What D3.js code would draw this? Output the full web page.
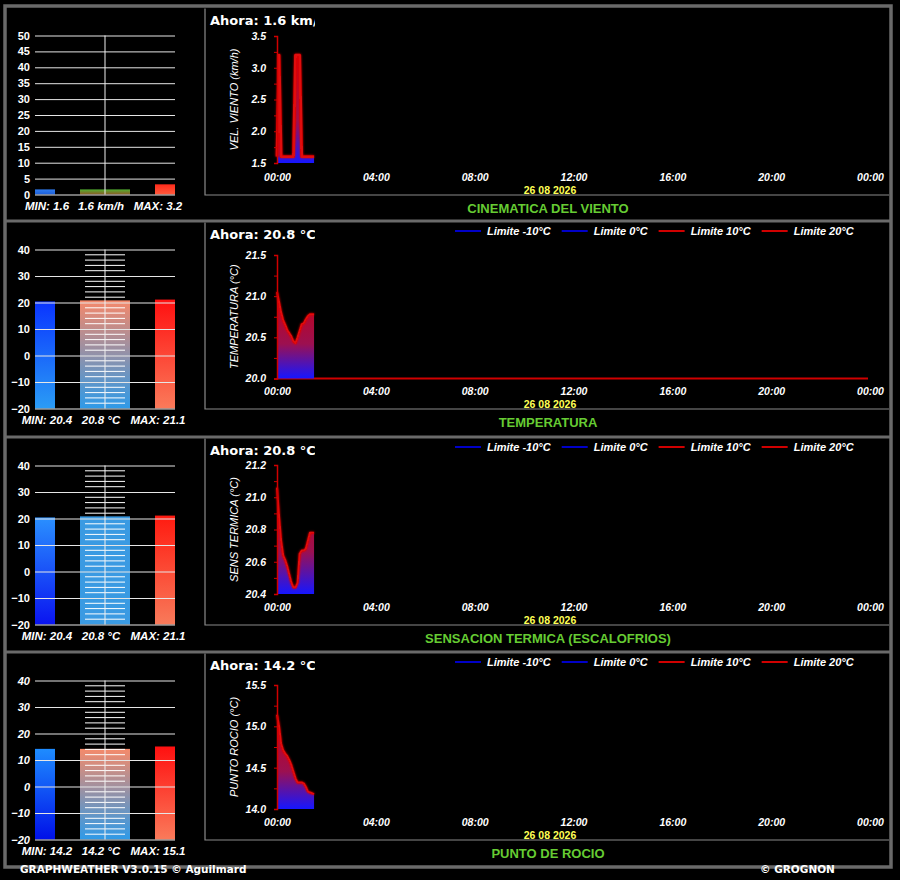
<!DOCTYPE html>
<html>
<head>
<meta charset="utf-8">
<script src="https://cdn.jsdelivr.net/npm/d3@7"></script>
<style>
  body { margin: 0; background: #000; }
  svg { display: block; }
</style>
</head>
<body>
<svg id="svg"></svg>
<script>
// ---- values ----
const panelTitles = ["CINEMATICA DEL VIENTO", "TEMPERATURA", "SENSACION TERMICA (ESCALOFRIOS)", "PUNTO DE ROCIO"];
const axisTitles = ["VEL. VIENTO (km/h)", "TEMPERATURA (°C)", "SENS TERMICA (°C)", "PUNTO ROCIO (°C)"];
const units = ["km/h", "°C", "°C", "°C"];

const nowValues = [1.6, 20.8, 20.8, 14.2];
const minValues = [1.6, 20.4, 20.4, 14.2];
const maxValues = [3.2, 21.1, 21.1, 15.1];

// minutes after midnight of each sample
const sampleMinutes = [0, 5, 10, 15, 20, 25, 30, 35, 40, 45, 50, 55, 60, 65, 70, 75, 80, 85, 90];
const windSeries = [1.6, 3.2, 1.6, 1.6, 1.6, 1.6, 1.6, 1.6, 1.6, 3.2, 3.2, 3.2, 1.6, 1.6, 1.6, 1.6, 1.6, 1.6, 1.6];
const tempSeries = [21.05, 20.93, 20.80, 20.71, 20.65, 20.59, 20.55, 20.51, 20.45, 20.43, 20.50, 20.58, 20.66, 20.67, 20.72, 20.76, 20.78, 20.78, 20.78];
const feelSeries = [21.06, 20.88, 20.73, 20.64, 20.61, 20.57, 20.52, 20.47, 20.44, 20.44, 20.47, 20.65, 20.67, 20.67, 20.68, 20.73, 20.78, 20.78, 20.78];
const dewSeries = [15.14, 15.0, 14.79, 14.71, 14.67, 14.64, 14.59, 14.53, 14.45, 14.37, 14.32, 14.32, 14.32, 14.31, 14.27, 14.21, 14.20, 14.19, 14.18];
const allSeries = [windSeries, tempSeries, feelSeries, dewSeries];

const yDomains = [[1.5, 3.5], [20, 21.5], [20.4, 21.2], [14, 15.5]];
const yMajorTicks = [[1.5, 2, 2.5, 3, 3.5], [20, 20.5, 21, 21.5], [20.4, 20.6, 20.8, 21, 21.2], [14, 14.5, 15, 15.5]];
const yMinorTicks = [[1.75, 2.25, 2.75, 3.25], [20.25, 20.75, 21.25], [20.5, 20.7, 20.9, 21.1], [14.25, 14.75, 15.25]];

const gaugeDomains = [[0, 50], [-20, 40], [-20, 40], [-20, 40]];
const gaugeTicks = [
  [0, 5, 10, 15, 20, 25, 30, 35, 40, 45, 50],
  [-20, -10, 0, 10, 20, 30, 40],
  [-20, -10, 0, 10, 20, 30, 40],
  [-20, -10, 0, 10, 20, 30, 40]
];

const limitLabels = ["Limite -10°C", "Limite 0°C", "Limite 10°C", "Limite 20°C"];
const limitValues = [-10, 0, 10, 20];
const dateLabel = "26 08 2026";
const footerLeft = "GRAPHWEATHER V3.0.15 © Aguilmard";
const footerRight = "© GROGNON";

// ---- styles ----
const limitColours = ["#0000c8", "#0000c8", "#d00000", "#d00000"];
// [top, bottom] colours of the min / now / max bars of each gauge
const barColours = [
  [["#2f7cf0", "#1d5ed8"], ["#52b030", "#8e5a26"], ["#ff2a1a", "#ff5a3c"]],
  [["#0a34ff", "#2a9cf5"], ["#f5886a", "#2e9ae8"], ["#ff1010", "#fa7a5a"]],
  [["#2a90ff", "#0a14f0"], ["#3a9ae2", "#3a9ae2"], ["#ff1a10", "#f87a5a"]],
  [["#1e8cff", "#0010e8"], ["#f58a6a", "#2e9ae8"], ["#ff1010", "#fa7a5a"]]
];
const rowTops = [7, 221, 437, 652];
const plotTops = [29, 34, 28, 33];
const plotBottoms = [156, 157.5, 157, 157];
const barX = [35, 80, 155];
const barW = [20, 50, 20];

const labelFont = "italic bold 10.5px 'Liberation Sans', Arial, sans-serif";
const comicFont = "bold 13px 'DejaVu Sans', sans-serif";

const svg = d3.select("#svg").attr("width", 900).attr("height", 880);
svg.append("rect").attr("width", 900).attr("height", 880).attr("fill", "#000");
const defs = svg.append("defs");

// soft glow round the red series line
const glow = defs.append("filter").attr("id", "glow")
  .attr("x", "-30%").attr("y", "-30%").attr("width", "160%").attr("height", "160%");
glow.append("feGaussianBlur").attr("stdDeviation", 1.2).attr("result", "b");
const merge = glow.append("feMerge");
merge.append("feMergeNode").attr("in", "b");
merge.append("feMergeNode").attr("in", "SourceGraphic");

function vGradient(id, stops) {
  const g = defs.append("linearGradient").attr("id", id)
    .attr("x1", 0).attr("y1", 0).attr("x2", 0).attr("y2", 1);
  stops.forEach(s => g.append("stop").attr("offset", s[0]).attr("stop-color", s[1]));
}

const day0 = new Date(2026, 7, 26, 0, 0);
const day1 = new Date(2026, 7, 27, 0, 0);
const toDate = m => new Date(day0.getTime() + m * 60000);
const x = d3.scaleTime().domain([day0, day1]).range([277, 870]);

function drawGauge(g, i, top) {
  const y = d3.scaleLinear().domain(gaugeDomains[i]).range([top + 187.5, top + 28.5]);
  const base = gaugeDomains[i][0];
  const vals = [minValues[i], nowValues[i], maxValues[i]];

  vals.forEach((v, k) => {
    const id = "bar" + i + "_" + k;
    vGradient(id, [[0, barColours[i][k][0]], [1, barColours[i][k][1]]]);
    g.append("rect")
      .attr("x", barX[k]).attr("width", barW[k])
      .attr("y", y(v)).attr("height", y(base) - y(v))
      .attr("fill", `url(#${id})`);
  });

  // thermometer graduation on the middle bar
  if (i > 0) {
    const marks = d3.range(-18, 40, 2).filter(v => v % 10 !== 0);
    g.selectAll(".grad").data(marks).join("line")
      .attr("x1", 85).attr("x2", 125)
      .attr("y1", d => y(d)).attr("y2", d => y(d))
      .attr("stroke", "#fff").attr("stroke-width", 1);
  }

  const ax = g.append("g").attr("transform", "translate(35,0)")
    .call(d3.axisLeft(y).tickValues(gaugeTicks[i]).tickSize(-140).tickPadding(5));
  ax.select(".domain").remove();
  ax.selectAll("line").attr("stroke", "#e6e6e6");
  ax.selectAll("text").attr("fill", "#fff")
    .style("font", (i === 3 ? "italic " : "") + "bold 11px 'Liberation Sans', Arial, sans-serif");

  g.append("line")
    .attr("x1", 105).attr("x2", 105)
    .attr("y1", y(gaugeDomains[i][1])).attr("y2", y(base))
    .attr("stroke", "#f0f0f0");

  const labels = [
    ["MIN: " + minValues[i].toFixed(1), 47],
    [nowValues[i].toFixed(1) + " " + units[i], 101],
    ["MAX: " + maxValues[i].toFixed(1), 158]
  ];
  labels.forEach(l => {
    g.append("text").attr("x", l[1]).attr("y", top + 203)
      .attr("text-anchor", "middle").attr("fill", "#fff")
      .style("font", "italic bold 11.5px 'Liberation Sans', Arial, sans-serif")
      .text(l[0]);
  });
}

function drawSeries(g, i, top) {
  const y = d3.scaleLinear().domain(yDomains[i]).range([top + plotBottoms[i], top + plotTops[i]]);
  const data = sampleMinutes.map((m, k) => ({ t: toDate(m), v: allSeries[i][k] }));

  // limit lines (only those that fall inside the value range)
  if (i > 0) {
    limitValues.forEach((v, k) => {
      if (v >= yDomains[i][0] && v <= yDomains[i][1]) {
        g.append("line")
          .attr("x1", x(day0)).attr("x2", x(day1) - 2)
          .attr("y1", y(v)).attr("y2", y(v))
          .attr("stroke", limitColours[k]).attr("stroke-width", 2);
      }
    });
  }

  const gid = "area" + i;
  vGradient(gid, [[0, "#c80010"], [0.6, "#9c1050"], [1, "#1616ff"]]);
  const area = d3.area().x(d => x(d.t)).y0(y(yDomains[i][0])).y1(d => y(d.v));
  const line = d3.line().x(d => x(d.t)).y(d => y(d.v));
  g.append("path").datum(data).attr("d", area).attr("fill", `url(#${gid})`);
  g.append("path").datum(data).attr("d", line)
    .attr("fill", "none").attr("stroke", "#e00808")
    .attr("stroke-width", i === 0 ? 2.8 : 2).attr("stroke-linejoin", "round")
    .attr("filter", "url(#glow)");

  // y axis: labelled major ticks and bare minor ticks
  const yAx = g.append("g").attr("transform", `translate(${x(day0)},0)`)
    .call(d3.axisLeft(y).tickValues(yMajorTicks[i]).tickSize(3).tickPadding(8).tickFormat(d3.format(".1f")));
  yAx.select(".domain").attr("stroke", "#d00000").attr("stroke-width", 1.5);
  yAx.selectAll("line").attr("stroke", "#d00000");
  yAx.selectAll("text").attr("fill", "#fff").style("font", labelFont);
  const yMin = g.append("g").attr("transform", `translate(${x(day0)},0)`)
    .call(d3.axisLeft(y).tickValues(yMinorTicks[i]).tickSize(3).tickFormat(""));
  yMin.select(".domain").remove();
  yMin.selectAll("line").attr("stroke", "#d00000");

  // x axis labels every four hours
  const xAx = g.append("g").attr("transform", `translate(0,${top + 164})`)
    .call(d3.axisBottom(x).ticks(d3.timeHour.every(4)).tickSize(0).tickFormat(d3.timeFormat("%H:%M")));
  xAx.select(".domain").remove();
  xAx.selectAll("text").attr("y", 10).attr("dy", 0).attr("fill", "#fff").style("font", labelFont);

  g.append("text").attr("x", 550).attr("y", top + 186.5)
    .attr("text-anchor", "middle").attr("fill", "#ffff55")
    .style("font", "bold 10.5px 'Liberation Sans', Arial, sans-serif")
    .text(dateLabel);

  const midY = (y(yDomains[i][0]) + y(yDomains[i][1])) / 2;
  g.append("text")
    .attr("transform", `translate(238,${midY}) rotate(-90)`)
    .attr("text-anchor", "middle").attr("fill", "#fff")
    .style("font", "italic 11px 'Liberation Sans', Arial, sans-serif")
    .text(axisTitles[i]);

  // legend for the limit lines
  if (i > 0) {
    let lx = 455;
    limitLabels.forEach((lab, k) => {
      g.append("line").attr("x1", lx).attr("x2", lx + 26)
        .attr("y1", top + 10).attr("y2", top + 10)
        .attr("stroke", limitColours[k]).attr("stroke-width", 2);
      const t = g.append("text").attr("x", lx + 32).attr("y", top + 14)
        .attr("fill", "#fff").style("font", "italic bold 11px 'Liberation Sans', Arial, sans-serif")
        .text(lab);
      lx += 32 + t.node().getComputedTextLength() + 11;
    });
  }

  // current value, clipped by its little box
  const cid = "clip" + i;
  defs.append("clipPath").attr("id", cid)
    .append("rect").attr("x", 206).attr("y", top + 2).attr("width", 109).attr("height", 24);
  g.append("text").attr("x", 210).attr("y", top + 18)
    .attr("fill", "#fff").attr("clip-path", `url(#${cid})`)
    .style("font", comicFont)
    .text("Ahora: " + nowValues[i].toFixed(1) + " " + units[i]);

  // frame of the chart box and panel title
  g.append("path")
    .attr("d", `M205,${top + 1.5}V${top + 188}H889`)
    .attr("fill", "none").attr("stroke", "#8a8a8a").attr("stroke-width", 1.2);
  g.append("text").attr("x", 548).attr("y", top + 206)
    .attr("text-anchor", "middle").attr("fill", "#66cc33")
    .style("font", "bold 13px 'Liberation Sans Narrow', 'Liberation Sans', Arial, sans-serif")
    .text(panelTitles[i]);
}

rowTops.forEach((top, i) => {
  const g = svg.append("g").attr("class", "panel");
  drawGauge(g, i, top);
  drawSeries(g, i, top);
});

// outer frame and row separators
svg.append("rect").attr("x", 5).attr("y", 6).attr("width", 886).attr("height", 861)
  .attr("fill", "none").attr("stroke", "#6a6a6a").attr("stroke-width", 3.5);
rowTops.slice(1).forEach(t => {
  svg.append("line").attr("x1", 5).attr("x2", 891).attr("y1", t).attr("y2", t)
    .attr("stroke", "#6a6a6a").attr("stroke-width", 3);
});

svg.append("text").attr("x", 20).attr("y", 873).attr("fill", "#fff")
  .style("font", "bold 10.5px 'DejaVu Sans', sans-serif").text(footerLeft);
svg.append("text").attr("x", 760).attr("y", 873).attr("fill", "#fff")
  .style("font", "bold 10.5px 'DejaVu Sans', sans-serif").text(footerRight);
</script>
</body>
</html>
